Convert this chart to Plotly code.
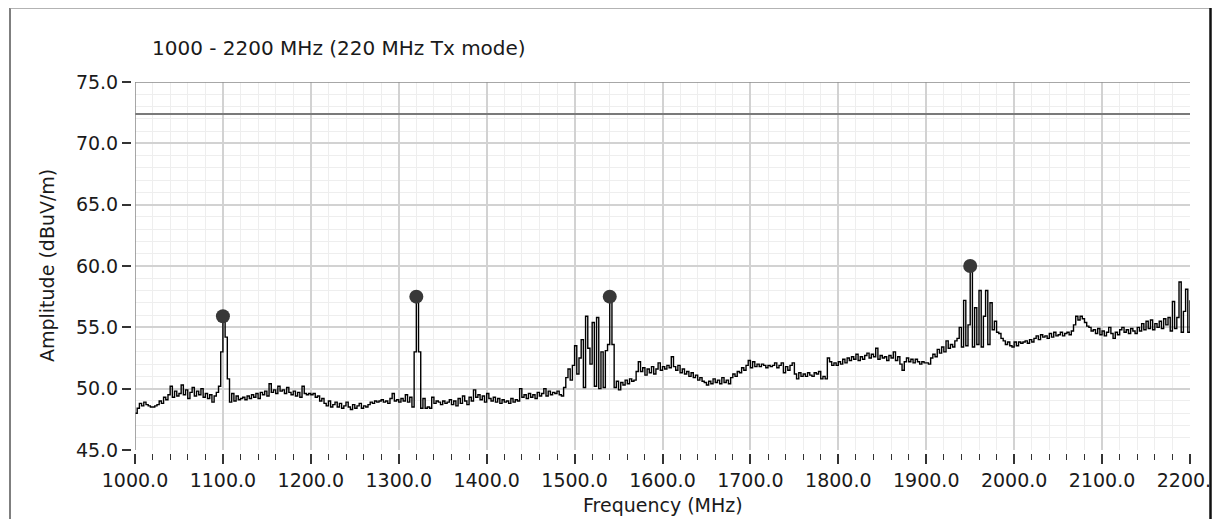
import numpy as np
import plotly.graph_objects as go

# ---------------- data ----------------
f_start = 1000.0
f_step = 2.5
amplitude_dbuv = [
    # 1000 - 1097.5
    48.0, 48.4, 48.8, 48.6, 48.9, 48.7, 48.6, 48.5, 48.5, 48.6,
    48.7, 49.0, 48.8, 49.3, 49.1, 49.5, 50.2, 49.3, 49.8, 49.4,
    49.6, 50.3, 49.5, 49.9, 49.2, 49.7, 50.1, 49.4, 49.8, 49.5,
    50.0, 49.3, 49.6, 49.2, 49.5, 48.9, 49.4, 49.7, 50.2, 53.0,
    # 1100 - 1197.5
    55.9, 54.2, 50.8, 48.9, 49.6, 49.0, 49.4, 49.1, 49.2, 49.3,
    49.1, 49.4, 49.2, 49.5, 49.3, 49.6, 49.2, 49.7, 49.5, 49.8,
    49.4, 50.4, 49.7, 49.9, 49.6, 50.2, 49.8, 49.9, 49.6, 50.1,
    49.7, 49.5, 49.8, 49.4, 49.7, 49.3, 50.2, 49.6, 49.5, 49.6,
    # 1200 - 1297.5
    49.5, 49.6, 49.3, 49.4, 49.0, 49.2, 48.8, 48.6, 49.0, 48.5,
    48.7, 48.9, 48.5, 48.8, 48.4, 48.6, 48.9, 48.5, 48.3, 48.7,
    48.4, 48.6, 48.8, 48.4, 48.6, 48.5, 48.7, 48.9, 48.8, 49.0,
    48.9, 49.0, 49.1, 48.9, 49.0, 48.8, 49.2, 49.6, 49.0, 49.1,
    # 1300 - 1397.5
    48.9, 49.2, 49.0, 49.5, 48.9, 49.3, 48.5, 53.0, 57.5, 53.0,
    48.4, 49.2, 48.4, 48.5, 48.4, 49.3, 48.8, 49.0, 48.9, 48.7,
    49.0, 48.8, 48.9, 49.1, 48.7, 49.0, 48.6, 49.2, 48.8, 49.4,
    49.0, 48.7, 49.3, 49.0, 49.9, 49.3, 49.5, 49.1, 49.4, 48.9,
    # 1400 - 1497.5
    49.6, 49.2, 49.0, 49.3, 48.9, 49.2, 48.8, 49.1, 48.9, 49.0,
    48.8, 49.2, 48.9, 49.1, 49.0, 50.0, 49.3, 49.5, 49.2, 49.6,
    49.3, 49.5, 49.2, 49.7, 49.4, 49.6, 50.0, 49.4, 49.8, 49.5,
    49.7, 49.6, 49.8, 49.5, 49.4, 50.1, 50.9, 51.6, 50.7, 51.9,
    # 1500 - 1597.5
    53.5, 51.2, 52.5, 54.0, 50.1, 55.9, 53.3, 52.0, 55.4, 50.2,
    55.8, 50.0, 53.0, 50.1, 53.1, 53.6, 57.5, 53.6, 50.1, 50.6,
    49.9, 50.5, 50.3, 50.7, 50.4, 50.8, 50.6, 50.7, 51.4, 52.2,
    51.4, 51.7, 51.1, 51.6, 51.3, 51.8, 51.2, 51.6, 52.1, 51.5,
    # 1600 - 1697.5
    51.8, 51.6, 51.9, 51.7, 52.6, 51.8, 51.5, 51.9, 51.3, 51.6,
    51.2, 51.4, 51.0, 51.3, 50.9, 51.1, 50.7, 50.9, 50.6, 50.5,
    50.3, 50.6, 50.4, 50.8, 50.5, 50.7, 50.4, 50.9, 50.5, 50.7,
    50.4, 50.9, 51.2, 51.0, 51.4, 51.3, 51.7, 51.5, 51.9, 52.3,
    # 1700 - 1797.5
    51.7, 52.2, 51.8, 52.0, 51.8, 52.0, 51.9, 51.7, 51.9, 51.8,
    51.9, 52.1, 51.7, 51.9, 52.1, 51.3, 51.8, 51.5, 51.9, 52.1,
    51.2, 50.8, 51.3, 51.0, 51.2, 51.0, 51.3, 51.1, 51.0, 51.3,
    51.2, 51.4, 50.8, 51.0, 50.8, 52.5, 52.2, 51.9, 52.1, 51.9,
    # 1800 - 1897.5
    52.2, 52.0, 52.4, 52.1, 52.5, 52.3, 52.6, 52.4, 52.8, 52.3,
    52.6, 52.4, 52.7, 52.9, 52.5, 52.8, 52.6, 53.3, 52.4, 52.7,
    52.5, 52.6, 52.3, 52.7, 52.5, 53.0, 52.3, 52.6, 52.0, 51.5,
    52.2, 52.5, 52.2, 52.4, 52.1, 52.4, 52.2, 52.0, 52.2, 52.1,
    # 1900 - 1997.5
    52.1, 52.0, 52.5, 52.8, 52.6, 53.2, 52.9, 53.4, 53.0, 53.9,
    53.3, 53.6, 53.4, 53.9, 54.1, 55.0, 53.4, 57.2, 53.5, 55.2,
    60.0, 53.4, 56.6, 53.6, 58.0, 53.4, 55.9, 58.0, 53.6, 57.0,
    54.8, 55.5, 54.6, 54.5, 54.1, 53.9, 53.6, 53.8, 53.5, 53.4,
    # 2000 - 2097.5
    53.8, 53.5, 53.8, 53.7, 53.8, 53.9, 53.7, 54.0, 53.8, 54.1,
    54.3, 54.0, 54.4, 54.2, 54.3, 54.1, 54.5, 54.2, 54.6, 54.3,
    54.4, 54.6, 54.3, 54.5, 54.6, 54.4, 54.7, 55.2, 55.9, 55.6,
    55.9, 55.7, 55.4, 55.1, 55.0, 54.7, 54.8, 54.5, 54.9, 54.4,
    # 2100 - 2200
    54.7, 54.3, 54.6, 55.0, 54.5, 54.1, 54.6, 54.4, 54.8, 55.0,
    54.6, 54.8, 54.5, 54.9, 54.7, 54.5, 55.0, 54.7, 55.3, 54.8,
    55.5, 54.9, 55.6, 54.8, 55.3, 55.0, 55.5, 54.9, 55.7, 55.2,
    55.8, 54.7, 57.1, 54.9, 55.8, 58.7, 54.6, 56.3, 58.1, 54.6,
    57.2,
]
frequency_mhz = f_start + f_step * np.arange(len(amplitude_dbuv))

peak_freqs = [1100.0, 1320.0, 1540.0, 1950.0]
peak_amps = [55.9, 57.5, 57.5, 60.0]

limit_freqs = [1000.0, 2200.0]
limit_level = [72.4, 72.4]

x_range = [1000.0, 2200.0]
y_range = [45.0, 75.0]
title_text = "1000 - 2200 MHz (220 MHz Tx mode)"
x_title = "Frequency (MHz)"
y_title = "Amplitude (dBuV/m)"

# ---------------- layout geometry ----------------
# page has an 8px body margin; figure sized so the page fits the window exactly
OFF = 8
W, H = 1220 - 2 * OFF, 527 - 2 * OFF
ML, MT = 131 - OFF, 82 - OFF
MR = W - (1190 - OFF)
MB = H - (453 - OFF)
PW = W - ML - MR
PH = H - MT - MB


def px(xp):  # page pixel -> paper x
    return (xp - OFF - ML) / PW


def py(yp):  # page pixel -> paper y
    return (H - MB - (yp - OFF)) / PH


FONT = "DejaVu Sans"
TXT = "#1a1a1a"

fig = go.Figure()
fig.add_trace(go.Scatter(
    x=limit_freqs, y=limit_level, mode="lines",
    line=dict(color="#7a7a7a", width=2), hoverinfo="skip", showlegend=False))
fig.add_trace(go.Scatter(
    x=frequency_mhz, y=amplitude_dbuv, mode="lines",
    line=dict(color="black", width=1.4, shape="hv"), showlegend=False))
fig.add_trace(go.Scatter(
    x=peak_freqs, y=peak_amps, mode="markers",
    marker=dict(color="#383838", size=14, symbol="circle"), showlegend=False))

fig.update_layout(
    width=W, height=H, autosize=False,
    margin=dict(l=ML, r=MR, t=MT, b=MB, pad=0, autoexpand=False),
    paper_bgcolor="white", plot_bgcolor="white",
    font=dict(family=FONT, size=19, color=TXT),
    showlegend=False,
    xaxis=dict(
        domain=[4 / PW, 1], anchor="free", position=0, automargin=False,
        range=x_range, tick0=1000, dtick=100, tickformat=".1f",
        ticks="outside", ticklen=10, tickwidth=1.5, tickcolor="#333",
        ticklabeloverflow="allow",
        showgrid=True, gridcolor="#d2d2d2", gridwidth=1.5,
        zeroline=False, showline=False,
        tickfont=dict(family=FONT, size=19, color=TXT),
        minor=dict(dtick=20, ticks="outside", ticklen=6, tickwidth=1.2,
                   tickcolor="#333", showgrid=True, gridcolor="#eeeeee",
                   gridwidth=1),
    ),
    yaxis=dict(
        domain=[3 / PH, 1], anchor="free", position=0, automargin=False,
        range=y_range, tick0=45, dtick=5, tickformat=".1f",
        ticks="outside", ticklen=9, tickwidth=1.5, tickcolor="#333",
        showgrid=True, gridcolor="#d2d2d2", gridwidth=1.5,
        zeroline=False, showline=False,
        tickfont=dict(family=FONT, size=19, color=TXT),
        minor=dict(dtick=1, showgrid=True, gridcolor="#eeeeee", gridwidth=1),
    ),
    annotations=[
        dict(text=title_text, xref="paper", yref="paper", x=px(150), y=py(48),
             xanchor="left", yanchor="middle", showarrow=False,
             font=dict(family=FONT, size=20, color=TXT)),
        dict(text=x_title, xref="paper", yref="paper", x=px(662.5), y=py(505),
             xanchor="center", yanchor="middle", showarrow=False,
             font=dict(family=FONT, size=19, color=TXT)),
        dict(text=y_title, xref="paper", yref="paper", x=px(47), y=py(266),
             xanchor="center", yanchor="middle", showarrow=False, textangle=-90,
             font=dict(family=FONT, size=19, color=TXT)),
    ],
    shapes=[
        # plot area borders (left and top)
        dict(type="line", xref="x", yref="y", x0=x_range[0], x1=x_range[0],
             y0=y_range[0], y1=y_range[1], line=dict(color="#8a8a8a", width=1.5)),
        dict(type="line", xref="x", yref="y", x0=x_range[0], x1=x_range[1],
             y0=y_range[1], y1=y_range[1], line=dict(color="#8a8a8a", width=1.5)),
        # outer frame
        dict(type="line", xref="paper", yref="paper", x0=px(10), x1=px(10),
             y0=py(8), y1=py(530), line=dict(color="#555555", width=1.5)),
        dict(type="line", xref="paper", yref="paper", x0=px(10), x1=px(1210.5),
             y0=py(8), y1=py(8), line=dict(color="#9a9a9a", width=1.5)),
        dict(type="line", xref="paper", yref="paper", x0=px(1210.5), x1=px(1210.5),
             y0=py(8), y1=py(530), line=dict(color="#111111", width=2.5)),
    ],
)

fig.write_html("out.html")
